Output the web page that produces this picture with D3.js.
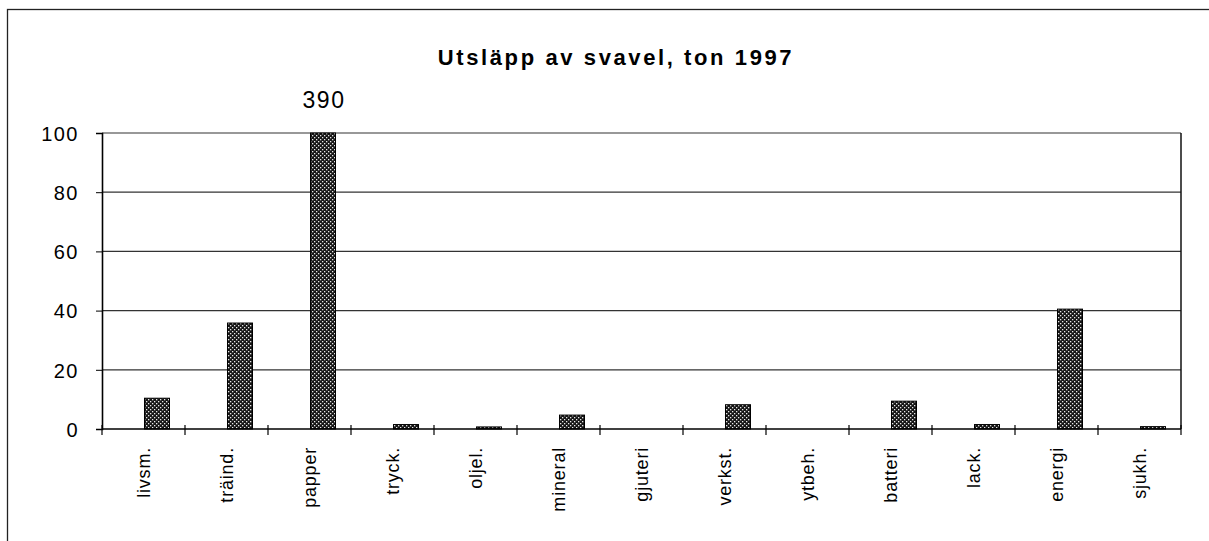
<!DOCTYPE html>
<html>
<head>
<meta charset="utf-8">
<script src="https://cdn.jsdelivr.net/npm/d3@7"></script>
<style>
  body { margin: 0; background: #fff; }
  text { font-family: "Liberation Sans", Arial, sans-serif; fill: #000; }
</style>
</head>
<body>
<div id="chart-area"></div>
<script>
var categories = ['livsm.', 'träind.', 'papper', 'tryck.', 'oljel.', 'mineral', 'gjuteri', 'verkst.', 'ytbeh.', 'batteri', 'lack.', 'energi', 'sjukh.'];
var values = [10.4, 35.8, 390, 1.5, 0.7, 4.7, 0, 8.2, 0, 9.4, 1.5, 40.5, 0.8];
var yTicks = [0, 20, 40, 60, 80, 100];
var title = 'Utsläpp av svavel, ton 1997';

var W = 1209, H = 541;
var margin = { top: 133, left: 102, right: 28, bottom: 112 };
var width = W - margin.left - margin.right;
var height = H - margin.top - margin.bottom;

var svg = d3.select('#chart-area').append('svg')
	.attr('width', W)
	.attr('height', H);

// dotted fill like the old excel pattern
var pat = svg.append('defs').append('pattern')
	.attr('id', 'dots')
	.attr('width', 4).attr('height', 4)
	.attr('patternUnits', 'userSpaceOnUse');
pat.append('rect').attr('width', 4).attr('height', 4).attr('fill', '#161616');
pat.append('rect').attr('x', 0).attr('y', 0).attr('width', 1.3).attr('height', 1.3).attr('fill', '#e8e8e8');
pat.append('rect').attr('x', 2).attr('y', 2).attr('width', 1.3).attr('height', 1.3).attr('fill', '#e8e8e8');

// outer frame (runs off the right and bottom edge)
svg.append('rect')
	.attr('x', 7.5).attr('y', 9.5)
	.attr('width', 1300).attr('height', 600)
	.attr('fill', 'none').attr('stroke', '#222').attr('stroke-width', 1.3);

svg.append('text')
	.attr('x', 616).attr('y', 65)
	.attr('text-anchor', 'middle')
	.attr('font-size', '22px')
	.attr('font-weight', 'bold')
	.attr('letter-spacing', '2.6px')
	.text(title);

var g = svg.append('g').attr('transform', `translate(${margin.left}, ${margin.top})`);

var x = d3.scaleBand().domain(categories).range([0, width]).padding(0);
var y = d3.scaleLinear().domain([0, 100]).range([height, 0]);
var barW = 25;

// gridlines
g.selectAll('.grid').data(yTicks.filter(d => d > 0))
	.enter().append('line')
	.attr('x1', 0).attr('x2', width)
	.attr('y1', d => y(d)).attr('y2', d => y(d))
	.attr('stroke', '#333').attr('stroke-width', 1.2);

// right border of plot
g.append('line')
	.attr('x1', width).attr('x2', width)
	.attr('y1', 0).attr('y2', height)
	.attr('stroke', '#111').attr('stroke-width', 1.5);

// bars
g.selectAll('.bar').data(values)
	.enter().append('rect')
	.attr('class', 'bar')
	.attr('x', (d, i) => x(categories[i]) + x.bandwidth() / 2 + 1)
	.attr('y', d => y(Math.min(d, 100)))
	.attr('width', barW)
	.attr('height', d => height - y(Math.min(d, 100)))
	.attr('fill', 'url(#dots)')
	.attr('stroke', '#000')
	.attr('stroke-width', 1);

// value label on clipped bar
values.forEach((d, i) => {
	if (d > 100) {
		g.append('text')
			.attr('x', x(categories[i]) + x.bandwidth() / 2 + 2 + barW / 2)
			.attr('y', -25)
			.attr('text-anchor', 'middle')
			.attr('font-size', '23px')
			.attr('letter-spacing', '1.5px')
			.text(d);
	}
});

var yAxisCall = d3.axisLeft(y).tickValues(yTicks).tickSize(6).tickPadding(17).tickFormat(d3.format('d'));
var yAxis = g.append('g').call(yAxisCall);
yAxis.selectAll('text')
	.attr('font-size', '20px')
	.attr('letter-spacing', '1.5px')
	.attr('dy', '0.36em');
yAxis.select('.domain').attr('stroke', '#000').attr('stroke-width', 1.6);
yAxis.selectAll('.tick line').attr('stroke', '#000');

// x axis with ticks between categories
var xAxis = g.append('g').attr('transform', `translate(0, ${height})`);
xAxis.append('line')
	.attr('x1', 0).attr('x2', width)
	.attr('stroke', '#000').attr('stroke-width', 1.6);
xAxis.selectAll('.xtick').data(d3.range(categories.length + 1))
	.enter().append('line')
	.attr('x1', i => i * x.step()).attr('x2', i => i * x.step())
	.attr('y1', -4).attr('y2', 6)
	.attr('stroke', '#000').attr('stroke-width', 1.2);
xAxis.selectAll('.xlabel').data(categories)
	.enter().append('text')
	.attr('transform', d => `translate(${x(d) + x.bandwidth() / 2 + 6}, 18) rotate(-90)`)
	.attr('text-anchor', 'end')
	.attr('font-size', '18px')
	.attr('letter-spacing', '0.8px')
	.text(d => d);
</script>
</body>
</html>
